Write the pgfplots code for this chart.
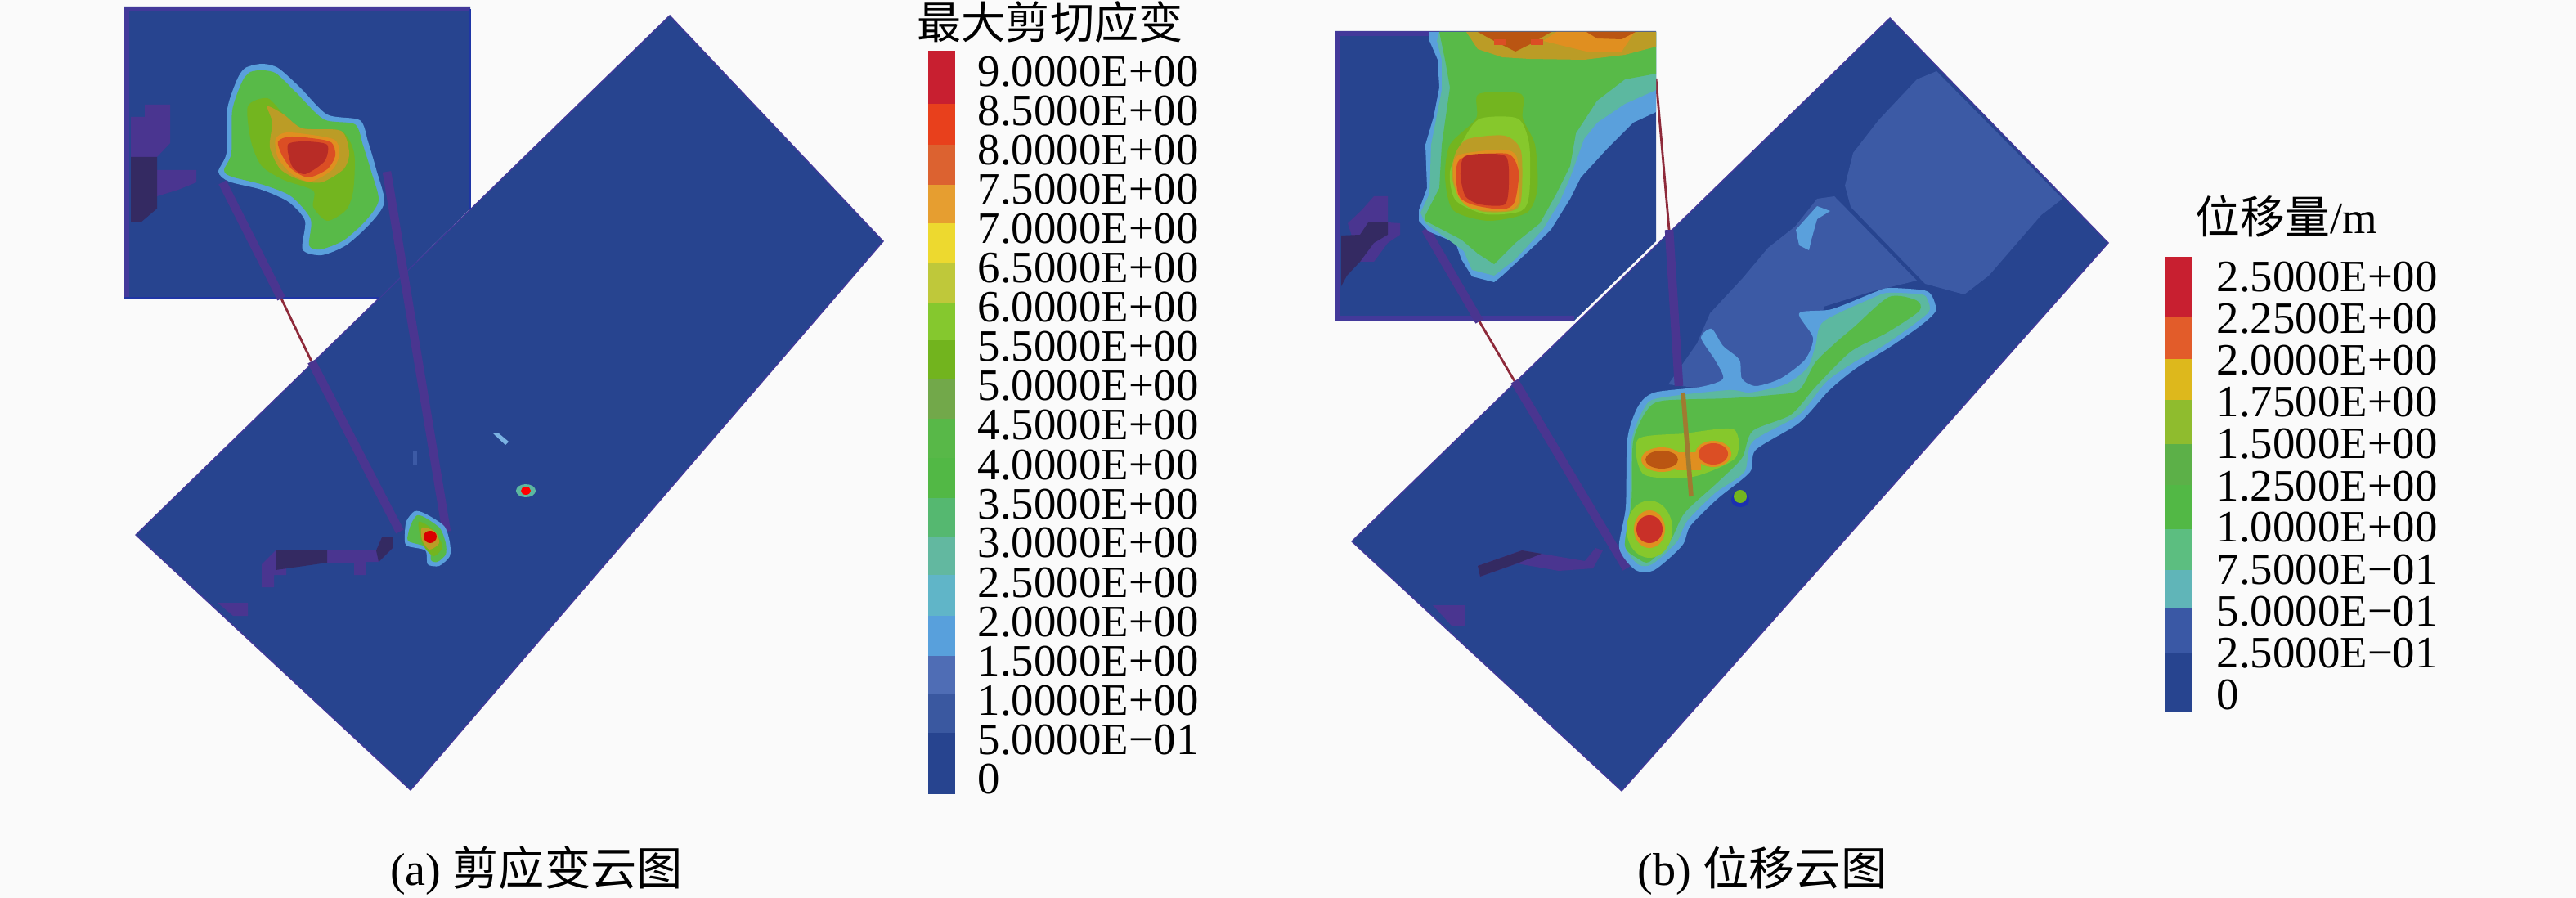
\documentclass[border=0pt]{standalone}
\usepackage{fontspec}
\usepackage{pgfplots}
\pgfplotsset{compat=1.18}
\setmainfont{Liberation Serif}
\newfontfamily\cjk{Noto Sans CJK SC}

% all coordinates are pixels of the 3150x1098 picture
\newcommand{\area}[2]{\addplot[fill=#1,draw=none] coordinates {#2} -- cycle;}
\newcommand{\blob}[2]{\addplot[fill=#1,draw=none,smooth cycle,tension=0.45] coordinates {#2};}
\newcommand{\spot}[2]{\addplot[fill=#1,draw=none,smooth cycle,tension=1] coordinates {#2};}
\newcommand{\seg}[2]{\addplot[draw=#1,line width=3pt] coordinates {#2};}
\newcommand{\thin}[2]{\addplot[draw=#1,line width=0.8pt] coordinates {#2};}
\newcommand{\lab}[3]{\node[anchor=base west,inner sep=0pt,font=\fontsize{15.6}{15.6}\selectfont] at (axis cs:#1,#2) {#3};}
\newcommand{\hc}[1]{\definecolor{#1}{HTML}{#1}}

\hc{C81F30}\hc{E8401C}\hc{DC6230}\hc{E69E30}\hc{EDD92F}\hc{BFC83A}\hc{85C82E}\hc{72B41E}\hc{72A84A}
\hc{58B848}\hc{52B845}\hc{55B870}\hc{62B8A0}\hc{60B5C8}\hc{58A0DC}\hc{4F6DB5}\hc{3A58A0}\hc{27448F}
\hc{E25C2A}\hc{DDB81C}\hc{8FBC2E}\hc{5CB048}\hc{5CBE80}\hc{60B5B8}\hc{3A58A5}\hc{C93028}
\definecolor{bgc}{HTML}{FAFAFA}
\definecolor{base}{HTML}{27448F}
\definecolor{lite}{HTML}{3C5AA5}
\definecolor{edge}{HTML}{43399A}
\definecolor{pur}{HTML}{4A3590}
\definecolor{dark}{HTML}{342A62}
\definecolor{lblue}{HTML}{5AA0DC}
\definecolor{teal}{HTML}{5CB8A0}
\definecolor{grn}{HTML}{58BA48}
\definecolor{mgrn}{HTML}{73B51F}
\definecolor{lime}{HTML}{86C82C}
\definecolor{olive}{HTML}{BB9C26}
\definecolor{orng}{HTML}{E08F20}
\definecolor{dorng}{HTML}{BA5512}
\definecolor{rorng}{HTML}{DB4E24}
\definecolor{rred}{HTML}{B82C26}
\definecolor{wire}{HTML}{8E2A3A}
\definecolor{brn}{HTML}{A07A30}

\begin{document}
\begin{tikzpicture}
\begin{axis}[
    scale only axis,
    width=31.5cm, height=10.98cm,
    xmin=0, xmax=3150, ymin=0, ymax=1098,
    y dir=reverse,
    axis lines=none,
    clip=false,
]
\area{bgc}{(0,0)(3150,0)(3150,1098)(0,1098)}

% ---- (a) shear strain
\addplot[fill=base,draw=edge,line width=0.4pt] coordinates {(819,19)(1080,295)(502,966)(166,654)} -- cycle;
\area{pur}{(266,737)(303,737)(303,753)(285,753)}
\area{pur}{(320,690)(337,673)(460,673)(467,657)(480,657)(480,670)(463,687)(447,687)(447,703)(433,703)(433,688)(350,688)(350,703)(335,703)(335,718)(320,718)}
\area{dark}{(337,673)(400,673)(400,688)(337,697)}
\area{dark}{(460,673)(467,657)(480,657)(480,670)(463,687)}
\area{base}{(152,8)(575,8)(575,255)(463,365)(152,365)}
\addplot[draw=edge,line width=1.6pt] coordinates {(155,365)(155,11)(575,11)};
\addplot[draw=base!80!blue,line width=0.8pt] coordinates {(575,11)(575,255)};
\addplot[draw=base!80!blue,line width=0.8pt] coordinates {(152,364)(463,364)};
\area{pur}{(177,128)(208,128)(208,175)(192,192)(160,192)(160,143)(177,143)}
\area{pur}{(192,208)(240,208)(240,223)(218,232)(192,240)}
\area{dark}{(160,192)(192,192)(192,255)(172,272)(160,272)}
\seg{pur}{(272,223)(344,365)}
\thin{wire}{(344,365)(381,442)}
\seg{pur}{(381,442)(489,650)}
\seg{pur}{(473,210)(546,650)}
\blob{lblue}{(320,78)(340,83)(367,107)(400,140)(440,147)(450,173)(460,207)(470,247)(453,273)(423,300)(393,312)(370,305)(373,270)(353,247)(320,232)(280,222)(267,210)(277,187)(278,133)(290,97)(300,83)}
\blob{grn}{(322,86)(338,90)(362,113)(396,146)(434,152)(444,178)(454,210)(463,245)(447,270)(420,294)(392,305)(378,300)(380,268)(356,240)(322,226)(283,216)(274,208)(283,187)(284,135)(296,100)(306,88)}
\blob{mgrn}{(303,130)(327,120)(347,140)(370,157)(417,160)(433,187)(432,233)(423,257)(400,270)(383,253)(383,233)(347,220)(320,203)(307,173)}
\blob{olive}{(327,130)(347,140)(370,157)(417,160)(427,187)(420,207)(393,223)(367,220)(343,207)(330,180)(333,150)}
\blob{orng}{(337,170)(353,162)(407,170)(415,187)(407,207)(380,222)(357,213)(340,193)}
\blob{rorng}{(340,173)(357,167)(403,173)(410,190)(400,207)(377,217)(357,207)(345,190)}
\blob{rred}{(352,177)(373,173)(400,177)(397,197)(373,213)(357,203)}
% main blob and spots
\blob{lblue}{(497,637)(507,625)(520,628)(543,643)(550,663)(550,680)(537,692)(523,690)(520,673)(497,667)(495,653)}
\blob{grn}{(503,640)(510,630)(520,633)(538,646)(545,664)(545,678)(535,687)(527,685)(525,670)(500,662)(499,653)}
\blob{mgrn}{(512,638)(530,648)(541,668)(530,680)(516,664)}
\blob{olive}{(516,645)(532,650)(537,664)(525,672)(516,660)}
\spot{red!85!black}{(518,656)(526,649)(534,656)(526,664)}
\spot{teal}{(631,600)(643,592)(655,600)(643,608)}
\spot{red}{(637,600)(643,595)(649,600)(643,605)}
\area{lblue!80!white}{(603,530)(610,530)(622,540)(618,544)}
\area{lite}{(505,552)(510,552)(510,568)(505,568)}

% colour bar (a)
\area{C81F30}{(1135,62)(1168,62)(1168,127.5)(1135,127.5)}
\area{E8401C}{(1135,127.5)(1168,127.5)(1168,177)(1135,177)}
\area{DC6230}{(1135,177)(1168,177)(1168,226)(1135,226)}
\area{E69E30}{(1135,226)(1168,226)(1168,273)(1135,273)}
\area{EDD92F}{(1135,273)(1168,273)(1168,322)(1135,322)}
\area{BFC83A}{(1135,322)(1168,322)(1168,370)(1135,370)}
\area{85C82E}{(1135,370)(1168,370)(1168,416)(1135,416)}
\area{72B41E}{(1135,416)(1168,416)(1168,464)(1135,464)}
\area{72A84A}{(1135,464)(1168,464)(1168,512)(1135,512)}
\area{58B848}{(1135,512)(1168,512)(1168,560)(1135,560)}
\area{52B845}{(1135,560)(1168,560)(1168,609)(1135,609)}
\area{55B870}{(1135,609)(1168,609)(1168,657)(1135,657)}
\area{62B8A0}{(1135,657)(1168,657)(1168,703)(1135,703)}
\area{60B5C8}{(1135,703)(1168,703)(1168,753)(1135,753)}
\area{58A0DC}{(1135,753)(1168,753)(1168,802)(1135,802)}
\area{4F6DB5}{(1135,802)(1168,802)(1168,848)(1135,848)}
\area{3A58A0}{(1135,848)(1168,848)(1168,896)(1135,896)}
\area{27448F}{(1135,896)(1168,896)(1168,971)(1135,971)}
\node[anchor=center,inner sep=0pt,font=\fontsize{15.4}{15.4}\selectfont\cjk] at (axis cs:1284,27) {最大剪切应变};
\lab{1195}{106}{9.0000E+00}
\lab{1195}{154}{8.5000E+00}
\lab{1195}{202}{8.0000E+00}
\lab{1195}{250}{7.5000E+00}
\lab{1195}{298}{7.0000E+00}
\lab{1195}{346}{6.5000E+00}
\lab{1195}{394}{6.0000E+00}
\lab{1195}{442}{5.5000E+00}
\lab{1195}{490}{5.0000E+00}
\lab{1195}{538}{4.5000E+00}
\lab{1195}{586}{4.0000E+00}
\lab{1195}{634}{3.5000E+00}
\lab{1195}{682}{3.0000E+00}
\lab{1195}{730}{2.5000E+00}
\lab{1195}{778}{2.0000E+00}
\lab{1195}{826}{1.5000E+00}
\lab{1195}{874}{1.0000E+00}
\lab{1195}{922}{5.0000E−01}
\lab{1195}{970}{0}

% ---- (b) displacement
\addplot[fill=base,draw=edge,line width=0.4pt] coordinates {(2311,22)(2578,297)(1983,967)(1653,662)} -- cycle;
\area{lite}{(2368,87)(2522,243)(2496,263)(2432,337)(2402,360)(2354,347)(2263,253)(2256,227)(2266,187)(2297,147)(2344,97)}
\area{lite}{(2243,240)(2344,343)(2287,357)(2230,375)(2225,430)(2180,470)(2120,480)(2040,470)(2075,420)(2091,383)(2131,340)(2162,303)(2195,277)(2222,243)}
\area{pur}{(1752,740)(1791,740)(1791,765)(1775,765)}
\area{pur}{(1807,692)(1861,673)(1938,686)(1951,670)(1960,673)(1948,695)(1906,698)(1855,689)(1810,705)}
\area{dark}{(1807,692)(1861,673)(1885,677)(1855,689)(1810,705)}
\area{base}{(1633,38)(2025,38)(2025,295)(1925,392)(1633,392)}
\addplot[draw=edge,line width=1.6pt] coordinates {(1925,389)(1636,389)(1636,41)(2025,41)};
\area{pur}{(1648,273)(1665,257)(1680,240)(1697,240)(1697,272)(1712,273)(1712,287)(1697,297)(1680,320)(1663,320)}
\area{dark}{(1640,288)(1663,287)(1673,272)(1697,272)(1697,287)(1680,297)(1663,320)(1647,337)(1640,350)}
\seg{pur}{(1743,280)(1809,393)}
\thin{wire}{(1809,393)(1852,466)}
\seg{pur}{(1852,466)(1989,695)}
\thin{wire}{(2025,96)(2041,281)}
\seg{pur}{(2041,281)(2053,472)}
% inset contours
\area{lblue}{(1747,39)(2025,39)(2025,137)(1997,150)(1967,180)(1933,217)(1920,243)(1897,280)(1880,297)(1837,337)(1827,345)(1800,338)(1787,317)(1780,297)(1747,283)(1735,270)(1735,257)(1745,230)(1743,177)(1753,143)(1760,107)(1758,73)(1748,50)}
\area{teal}{(1760,39)(2025,39)(2025,110)(1987,127)(1953,150)(1937,170)(1920,217)(1907,247)(1887,280)(1853,317)(1827,337)(1800,330)(1790,307)(1767,290)(1743,273)(1737,260)(1748,237)(1750,177)(1763,110)(1763,73)(1757,50)}
\area{grn}{(1760,39)(2025,39)(2025,90)(1987,97)(1953,123)(1927,163)(1920,203)(1903,237)(1883,273)(1853,297)(1827,323)(1807,310)(1787,293)(1743,270)(1743,263)(1760,230)(1763,177)(1773,107)(1767,73)}
\blob{mgrn}{(1808,115)(1860,115)(1862,145)(1877,177)(1880,230)(1867,260)(1820,270)(1777,257)(1767,217)(1773,177)(1805,145)}
\blob{lime}{(1810,145)(1856,145)(1870,177)(1870,237)(1860,258)(1817,262)(1780,245)(1773,210)(1790,170)}
\blob{olive}{(1795,170)(1840,166)(1860,185)(1860,245)(1848,258)(1810,258)(1783,238)(1775,213)(1780,187)}
\blob{orng}{(1783,190)(1837,183)(1855,193)(1857,247)(1840,258)(1800,255)(1783,240)(1777,213)}
\blob{rorng}{(1785,195)(1843,188)(1857,210)(1852,247)(1837,256)(1800,250)(1783,237)}
\blob{rred}{(1790,192)(1815,188)(1842,192)(1845,225)(1840,250)(1810,250)(1792,240)(1786,215)}
\area{olive}{(1793,39)(2025,39)(2025,57)(1987,67)(1937,73)(1870,72)(1837,70)(1807,60)}
\area{orng}{(1903,39)(1999,39)(1983,63)(1940,63)(1887,50)}
\area{dorng}{(1807,39)(1897,39)(1873,53)(1853,63)(1827,50)}
\area{dorng}{(1940,39)(2000,39)(1983,48)(1953,47)}
\area{rorng}{(1827,48)(1842,48)(1842,55)(1827,55)}
\area{rorng}{(1872,48)(1887,48)(1887,55)(1872,55)}
% main contours
\area{lblue}{(2222,252)(2238,258)(2222,268)(2215,293)(2212,306)(2200,300)(2196,281)}
\blob{lblue}{(2363,363)(2367,380)(2350,397)(2313,423)(2270,450)(2237,477)(2200,517)(2147,550)(2140,577)(2100,610)(2067,643)(2057,667)(2023,697)(2000,697)(1980,670)(1988,620)(1990,537)(2003,497)(2023,480)(2080,473)(2107,463)(2097,440)(2080,413)(2093,402)(2107,423)(2127,440)(2130,463)(2147,472)(2177,463)(2207,440)(2217,413)(2200,383)(2240,378)(2293,357)(2310,352)(2353,355)}
\blob{teal}{(2357,367)(2357,383)(2307,420)(2267,443)(2233,467)(2200,507)(2143,540)(2133,577)(2097,603)(2063,637)(2050,663)(2020,690)(2003,690)(1987,667)(1993,620)(1995,540)(2010,500)(2027,487)(2113,477)(2140,480)(2183,470)(2210,450)(2220,423)(2230,393)(2293,363)(2310,358)(2350,360)}
\blob{grn}{(2310,363)(2343,367)(2347,380)(2307,407)(2263,430)(2220,473)(2190,507)(2143,527)(2130,560)(2100,590)(2060,627)(2043,660)(2017,687)(2003,683)(1987,667)(1995,613)(1997,540)(2013,503)(2033,490)(2113,487)(2167,483)(2200,477)(2220,443)(2247,417)(2267,400)}
\blob{lime}{(2003,537)(2060,530)(2120,525)(2122,560)(2070,583)(2010,580)}
\spot{lime}{(1989,647)(2017,612)(2045,647)(2017,682)}
\spot{orng}{(2007,562)(2032,547)(2057,562)(2032,577)}
\area{orng}{(2050,553)(2080,553)(2080,575)(2050,575)}
\spot{orng}{(2073,555)(2095,539)(2117,555)(2095,571)}
\spot{dorng}{(2012,562)(2032,551)(2052,562)(2032,573)}
\spot{rorng}{(2077,555)(2095,542)(2113,555)(2095,568)}
\spot{orng}{(1998,647)(2017,624)(2036,647)(2017,670)}
\spot{C93028}{(2001,647)(2017,630)(2033,647)(2017,664)}
\addplot[draw=brn,line width=1.6pt] coordinates {(2058,480)(2068,607)};
\spot{base!70!blue}{(2117,611)(2128,600)(2139,611)(2128,620)}
\spot{mgrn}{(2120,607)(2128,599)(2136,607)(2128,615)}

% colour bar (b)
\area{C81F30}{(2647,314.5)(2680,314.5)(2680,387)(2647,387)}
\area{E25C2A}{(2647,387)(2680,387)(2680,439)(2647,439)}
\area{DDB81C}{(2647,439)(2680,439)(2680,489)(2647,489)}
\area{8FBC2E}{(2647,489)(2680,489)(2680,543)(2647,543)}
\area{5CB048}{(2647,543)(2680,543)(2680,593)(2647,593)}
\area{52B845}{(2647,593)(2680,593)(2680,647)(2647,647)}
\area{5CBE80}{(2647,647)(2680,647)(2680,697)(2647,697)}
\area{60B5B8}{(2647,697)(2680,697)(2680,742.5)(2647,742.5)}
\area{3A58A5}{(2647,742.5)(2680,742.5)(2680,799)(2647,799)}
\area{27448F}{(2647,799)(2680,799)(2680,871)(2647,871)}
\node[anchor=center,inner sep=0pt,font=\fontsize{15.6}{15.6}\selectfont] at (axis cs:2796,265) {{\cjk 位移量}/m};
\lab{2710}{357}{2.5000E+00}
\lab{2710}{408}{2.2500E+00}
\lab{2710}{459}{2.0000E+00}
\lab{2710}{510}{1.7500E+00}
\lab{2710}{561}{1.5000E+00}
\lab{2710}{612}{1.2500E+00}
\lab{2710}{663}{1.0000E+00}
\lab{2710}{714}{7.5000E−01}
\lab{2710}{765}{5.0000E−01}
\lab{2710}{816}{2.5000E−01}
\lab{2710}{867}{0}

% captions
\node[anchor=base,inner sep=0pt,font=\fontsize{16}{16}\selectfont] at (axis cs:656,1082) {(a) {\cjk 剪应变云图}};
\node[anchor=base,inner sep=0pt,font=\fontsize{16}{16}\selectfont] at (axis cs:2155,1082) {(b) {\cjk 位移云图}};
\end{axis}
\end{tikzpicture}
\end{document}
